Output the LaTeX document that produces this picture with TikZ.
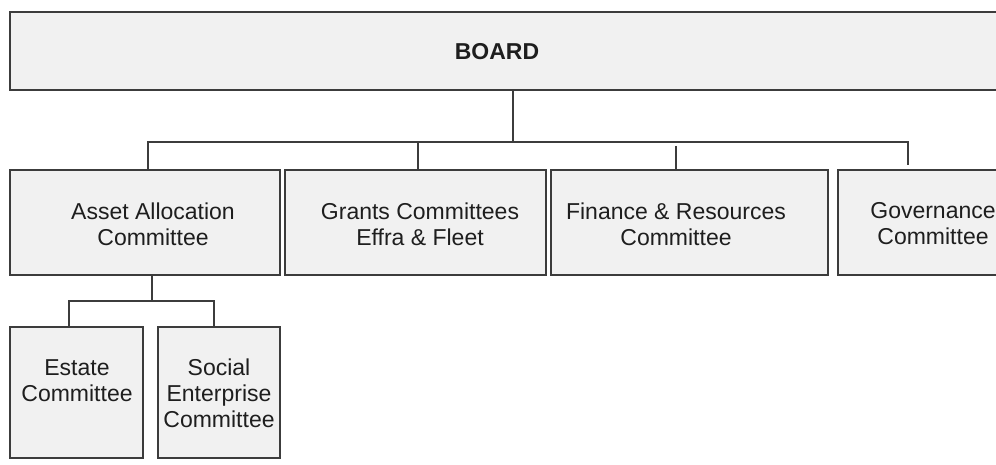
\documentclass[tikz,border=0pt]{standalone}
\usepackage{fontspec}
\setmainfont{Liberation Sans}
\definecolor{boxfill}{HTML}{F1F1F1}
\definecolor{edge}{HTML}{3C3C3C}
\definecolor{ink}{HTML}{1E1E1E}
\begin{document}
\begin{tikzpicture}[x=1pt,y=-1pt,
  box/.style={draw=edge, fill=boxfill, line width=2pt, rectangle, inner sep=0pt, outer sep=0pt},
  txt/.style={text=ink, align=center, inner sep=0pt, font=\fontsize{23}{26}\selectfont},
  conn/.style={draw=edge, line width=2pt}]
\useasboundingbox (0,0) rectangle (996,465);
\clip (0,0) rectangle (996,465);
% boxes
\node[box, minimum width=1006pt, minimum height=78pt] (board) at (513,51) {};
\node[txt, font=\fontsize{23}{26}\selectfont\bfseries] (boardt) at (497,52) {BOARD};
\node[box, minimum width=270pt, minimum height=105pt] (box1) at (145,222.5) {};
\node[box, minimum width=261pt, minimum height=105pt] (box2) at (415.5,222.5) {};
\node[box, minimum width=277pt, minimum height=105pt] (box3) at (689.5,222.5) {};
\node[box, minimum width=190pt, minimum height=105pt] (box4) at (933,222.5) {};
\node[box, minimum width=133pt, minimum height=131pt] (estate) at (76.5,392.5) {};
\node[box, minimum width=122pt, minimum height=131pt] (social) at (219,392.5) {};
% texts
\node[txt] (t1) at (153,224) {Asset Allocation\\Committee};
\node[txt] (t2) at (420,224) {Grants Committees\\Effra \& Fleet};
\node[txt] (t3) at (676,224) {Finance \& Resources\\Committee};
\node[txt] (t4) at (933,224) {Governance\\Committee};
\node[txt] (t5) at (77,381) {Estate\\Committee};
\node[txt] (t6) at (219,393) {Social\\Enterprise\\Committee};
% connector coordinates
\coordinate (hub) at (513,142);
\coordinate (hL) at (148,142);
\coordinate (hR) at (908,142);
\coordinate (d2) at (418,142);
\coordinate (d3) at (676,146);
\coordinate (g4) at (908,165);
\coordinate (sa) at (152,301);
\coordinate (sL) at (69,301);
\coordinate (sR) at (214,301);
% connectors
\draw[conn] (board.south) -- (hub);
\draw[conn] (box1.north -| hL) -- (hL) -- (hR) -- (g4);
\draw[conn] (d2) -- (box2.north -| d2);
\draw[conn] (d3) -- (box3.north -| d3);
\draw[conn] (box1.south -| sa) -- (sa);
\draw[conn] (estate.north -| sL) -- (sL) -- (sR) -- (social.north -| sR);
\end{tikzpicture}
\end{document}
